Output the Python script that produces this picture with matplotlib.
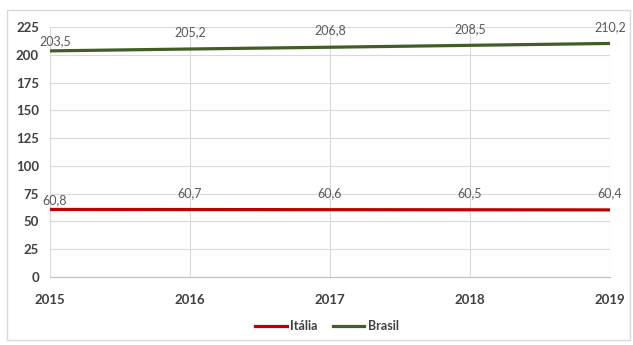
import matplotlib.pyplot as plt
from matplotlib.patches import Rectangle

anos = [2015, 2016, 2017, 2018, 2019]
italia = [60.8, 60.7, 60.6, 60.5, 60.4]
brasil = [203.5, 205.2, 206.8, 208.5, 210.2]
y_ticks = list(range(0, 226, 25))

COR_ITALIA = "#c00000"
COR_BRASIL = "#3f5f27"

plt.rcParams["font.family"] = ["Lato", "DejaVu Sans"]

fig = plt.figure(figsize=(6.33, 3.45), dpi=100)
fig.patch.set_facecolor("white")
# moldura do grafico
fig.patches.append(Rectangle((7 / 633, 5 / 345), 623 / 633, 330 / 345,
                             transform=fig.transFigure, fill=False,
                             edgecolor="#d9d9d9", linewidth=1))

ax = fig.add_axes([50 / 633, 68 / 345, 560 / 633, 250 / 345])
ax.plot(anos, italia, color=COR_ITALIA, linewidth=2.3, label="Itália")
ax.plot(anos, brasil, color=COR_BRASIL, linewidth=2.3, label="Brasil")

def rotulos(valores):
    for i, (x, v) in enumerate(zip(anos, valores)):
        txt = f"{v:.1f}".replace(".", ",")
        dx, dy = (3.6, 7) if i == 0 else (0, 12)
        ax.annotate(txt, (x, v), xytext=(dx, dy), textcoords="offset points",
                    ha="center", va="center", fontsize=9, color="#595959")

rotulos(italia)
rotulos(brasil)

ax.set_xlim(2015, 2019)
ax.set_ylim(0, 225)
ax.set_xticks(anos)
ax.set_yticks(y_ticks)
ax.grid(True, color="#d9d9d9", linewidth=0.8)
ax.set_axisbelow(True)
for lado in ["left", "top", "right"]:
    ax.spines[lado].set_visible(False)
ax.spines["bottom"].set_color("#bfbfbf")
ax.tick_params(length=0, labelsize=9.5, labelcolor="#404040")
ax.tick_params(axis="x", pad=12)
ax.tick_params(axis="y", pad=8)
for t in ax.get_xticklabels() + ax.get_yticklabels():
    t.set_fontweight("bold")

leg = fig.legend(loc="center", bbox_to_anchor=(327 / 633, 19 / 345), ncol=2,
                 frameon=False, fontsize=9, handlelength=2.5, columnspacing=1.2,
                 handletextpad=0.3)
for t in leg.get_texts():
    t.set_color("#404040")
    t.set_fontweight("bold")

fig.savefig("out.png", dpi=100)
